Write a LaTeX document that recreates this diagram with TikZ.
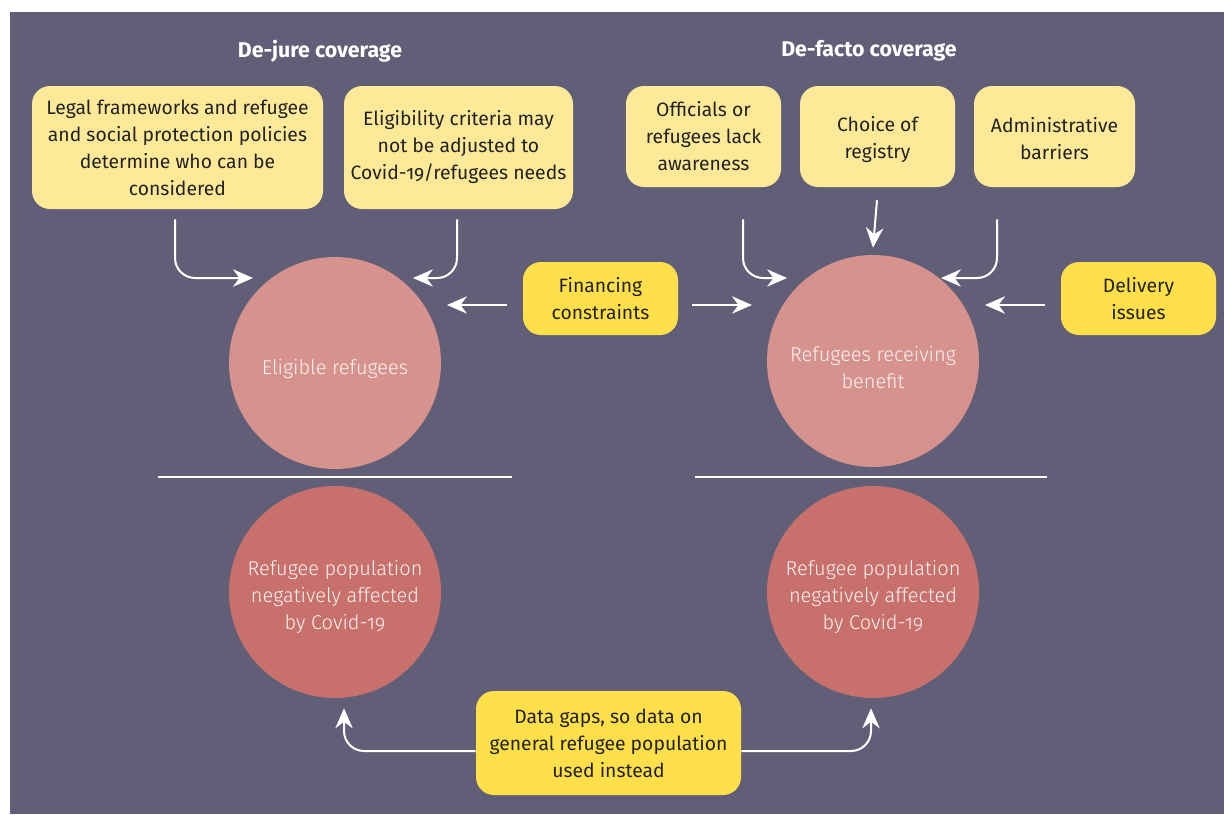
\documentclass[tikz,border=0pt]{standalone}
\usepackage{fontspec}
\setmainfont{Fira Sans}[Numbers=OldStyle]
\newfontfamily\lightfont{Fira Sans Light}[Numbers=OldStyle]
\usetikzlibrary{arrows.meta,calc}
\definecolor{bg}{HTML}{615F78}
\definecolor{ly}{HTML}{FEE999}
\definecolor{by}{HTML}{FFE04A}
\definecolor{pk}{HTML}{D6928D}
\definecolor{rd}{HTML}{C8706B}
\definecolor{txt}{HTML}{222222}
\definecolor{ctxt}{HTML}{FAF3F2}
\begin{document}
\begin{tikzpicture}[x=0.75pt,y=-0.75pt,
  box/.style={rounded corners=13.5pt, align=center, inner sep=0pt, text=txt,
    font=\fontsize{14.5}{20.25}\selectfont},
  lbox/.style={box, fill=ly},
  bbox/.style={box, fill=by},
  circ/.style={circle, minimum size=159pt, inner sep=0pt},
  ctext/.style={align=center, text=ctxt, inner sep=0pt,
    font=\lightfont\fontsize{15}{20.25}\selectfont},
  head/.style={text=white, font=\fontsize{16}{18}\selectfont\bfseries},
  arr/.style={draw=white, line width=1.5pt, rounded corners=15pt,
    -{Stealth[length=15pt,width=13pt]}},
  sep/.style={draw=white, line width=1.5pt}]
\useasboundingbox (0,0) rectangle (1224,814);
\fill[bg] (10,12) rectangle (1224,814);

\node[head] (h1) at (320,51) {De-jure coverage};
\node[head] (h2) at (869,51) {De-facto coverage};

\node[lbox, minimum width=218.25pt, minimum height=92.25pt] (b1) at (177.5,147.5)
  {Legal frameworks and refugee\\and social protection policies\\determine who can be\\considered};
\node[lbox, minimum width=171.75pt, minimum height=92.25pt] (b2) at (458.5,147.5)
  {Eligibility criteria may\\not be adjusted to\\Covid-19/refugees needs};
\node[lbox, minimum width=116.25pt, minimum height=75.75pt] (b3) at (703.5,136.5)
  {Officials or\\refugees lack\\awareness};
\node[lbox, minimum width=116.25pt, minimum height=75.75pt] (b4) at (877.5,136.5)
  {\rule{0pt}{15.5pt}Choice of\\registry};
\node[lbox, minimum width=120.75pt, minimum height=75.75pt] (b5) at (1054.5,136.5)
  {\rule{0pt}{14pt}Administrative\\barriers};

\node[bbox, minimum width=116.25pt, minimum height=54.75pt] (fin) at (600.5,298.5)
  {Financing\\constraints};
\node[bbox, minimum width=116.25pt, minimum height=54.75pt] (del) at (1138.5,298.5)
  {Delivery\\issues};
\node[bbox, minimum width=198.75pt, minimum height=78pt] (dat) at (608.5,743)
  {Data gaps, so data on\\general refugee population\\used instead};

\node[circ, fill=pk] (c1) at (335,363) {};
\node[circ, fill=pk] (c2) at (873,361) {};
\node[circ, fill=rd] (c3) at (335,592) {};
\node[circ, fill=rd] (c4) at (873,592) {};
\node[ctext] (t1) at ($(c1.center)+(0,6)$) {Eligible refugees};
\node[ctext] (t2) at ($(c2.center)+(0,6.5)$) {Refugees receiving\\benefit};
\node[ctext] (t3) at ($(c3.center)+(0,5)$) {Refugee population\\negatively affected\\by Covid-19};
\node[ctext] (t4) at ($(c4.center)+(0,5)$) {Refugee population\\negatively affected\\by Covid-19};

\draw[sep] (158,477) -- (512,477);
\draw[sep] (695,477) -- (1047,477);

\draw[arr] ($(b1.south)+(-2.5,10)$) |- ($(c1.center)+(-82,-85)$);
\draw[arr] ($(b2.south)+(-1.5,10)$) |- ($(c1.center)+(78,-85)$);
\draw[arr] ($(b3.south)+(39.5,32)$) |- ($(c2.center)+(-86,-83)$);
\draw[arr] ($(b4.south)+(-0.5,13)$) -- ($(c2.north)+(0,-7)$);
\draw[arr] ($(b5.south)+(-57.5,32)$) |- ($(c2.center)+(68,-83)$);
\draw[arr] ($(fin.west)+(-16,6.5)$) -- ($(c1.center)+(112,-58)$);
\draw[arr] ($(fin.east)+(14,6.5)$) -- ($(c2.center)+(-121,-56)$);
\draw[arr] ($(del.west)+(-16,6.5)$) -- ($(c2.center)+(112,-56)$);
\draw[arr] ($(dat.west)+(0,8)$) -| ($(c3.south)+(9,10)$);
\draw[arr] ($(dat.east)+(0,8)$) -| ($(c4.south)+(-2,10)$);
\end{tikzpicture}
\end{document}
